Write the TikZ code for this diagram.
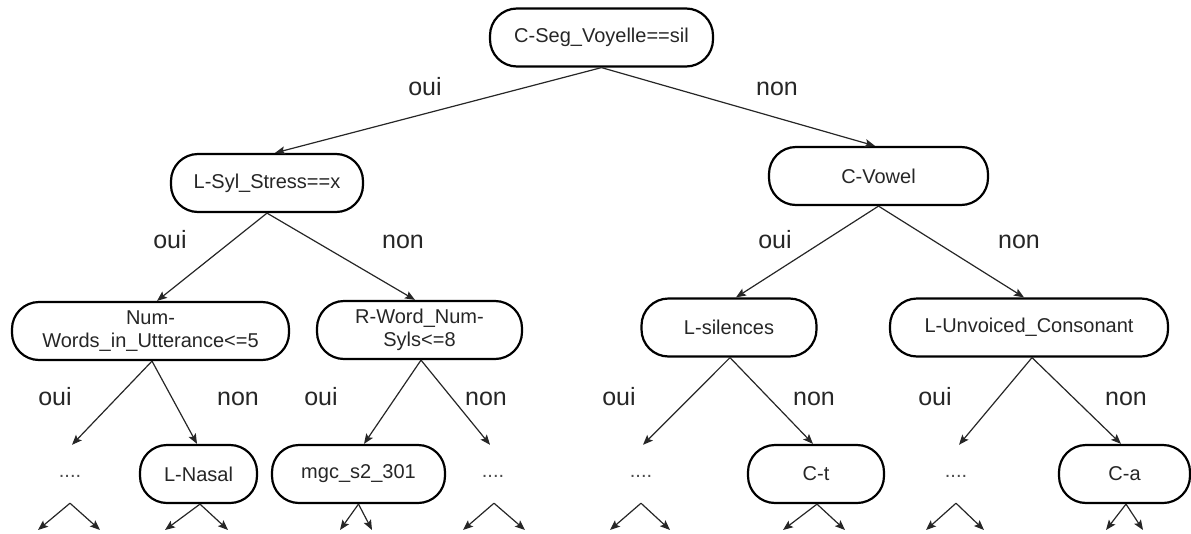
\documentclass[tikz,border=0pt]{standalone}
\usepackage{fontspec}
\setmainfont{Liberation Sans}
\usetikzlibrary{arrows.meta}
\begin{document}
\begin{tikzpicture}[x=1pt,y=-1pt,
  box/.style={draw=black, line width=2.2pt, rounded corners=27pt, minimum height=58pt,
    inner sep=0pt, font=\fontsize{20}{23}\selectfont, align=center, text=black!85},
  ph/.style={minimum height=58pt, minimum width=30pt, inner sep=0pt, font=\fontsize{20}{23}\selectfont, text=black!70},
  lab/.style={anchor=base, inner sep=0pt, font=\fontsize{25}{28}\selectfont, text=black!85},
  conn/.style={draw=black!85, line width=1.2pt, -{Stealth[length=10pt,width=8pt,inset=2pt]}}
]
\useasboundingbox (0,0) rectangle (1191,533);

% nodes
\node[box, minimum width=223pt] (root) at (601.5,37.5) {C-Seg\_Voyelle==sil};
\node[box, minimum width=192pt] (lsyl) at (267,183) {L-Syl\_Stress==x};
\node[box, minimum width=219pt] (cvow) at (878.5,176) {C-Vowel};
\node[box, minimum width=277pt] (numw) at (150.5,331) {Num-\\Words\_in\_Utterance<=5};
\node[box, minimum width=205pt] (rword) at (419.5,330) {R-Word\_Num-\\Syls<=8};
\node[box, minimum width=175pt] (lsil) at (729,327.5) {L-silences};
\node[box, minimum width=278pt] (lunv) at (1029,327.5) {L-Unvoiced\_Consonant};
\node[box, minimum width=117pt] (lnas) at (198.5,474) {L-Nasal};
\node[box, minimum width=173pt] (mgc) at (358.5,474) {mgc\_s2\_301};
\node[box, minimum width=136pt] (ct) at (816,474) {C-t};
\node[box, minimum width=131pt] (ca) at (1124.5,474) {C-a};
\node[ph] (ph1) at (70,474) {\raisebox{-6pt}{....}};
\node[ph] (ph2) at (493,474) {\raisebox{-6pt}{....}};
\node[ph] (ph3) at (641,474) {\raisebox{-6pt}{....}};
\node[ph] (ph4) at (956,474) {\raisebox{-6pt}{....}};

% labels
\node[lab] (l1o) at (425,95) {oui};
\node[lab] (l1n) at (777,95) {non};
\node[lab] (l2o1) at (170,248) {oui};
\node[lab] (l2n1) at (403,248) {non};
\node[lab] (l2o2) at (775,248) {oui};
\node[lab] (l2n2) at (1019,248) {non};
\node[lab] (l3o1) at (55,405) {oui};
\node[lab] (l3n1) at (238,405) {non};
\node[lab] (l3o2) at (321,405) {oui};
\node[lab] (l3n2) at (486,405) {non};
\node[lab] (l3o3) at (619,405) {oui};
\node[lab] (l3n3) at (814,405) {non};
\node[lab] (l3o4) at (935,405) {oui};
\node[lab] (l3n4) at (1126,405) {non};

% tree connectors
\draw[conn] (root.south) -- ([xshift=8pt]lsyl.north);
\draw[conn] (root.south) -- ([xshift=-3.5pt]cvow.north);
\draw[conn] (lsyl.south) -- ([xshift=6.5pt]numw.north);
\draw[conn] (lsyl.south) -- ([xshift=-4.5pt]rword.north);
\draw[conn] (cvow.south) -- ([xshift=7pt]lsil.north);
\draw[conn] (cvow.south) -- ([xshift=-5pt]lunv.north);
\draw[conn] ([xshift=1.5pt]numw.south) -- ([xshift=2pt]ph1.north);
\draw[conn] ([xshift=1.5pt]numw.south) -- ([xshift=-1.5pt]lnas.north);
\draw[conn] ([xshift=1.5pt]rword.south) -- ([xshift=5.5pt]mgc.north);
\draw[conn] ([xshift=1.5pt]rword.south) -- ([xshift=-3pt]ph2.north);
\draw[conn] ([xshift=1pt]lsil.south) -- ([xshift=2pt]ph3.north);
\draw[conn] ([xshift=1pt]lsil.south) -- ([xshift=-3pt]ct.north);
\draw[conn] ([xshift=3pt]lunv.south) -- ([xshift=3pt]ph4.north);
\draw[conn] ([xshift=3pt]lunv.south) -- ([xshift=-3.5pt]ca.north);

% free ends at the bottom
\coordinate (e1a) at (38,530);   \coordinate (e1b) at (100,530);
\coordinate (e2a) at (165,530);  \coordinate (e2b) at (228,530);
\coordinate (e3a) at (340,530);  \coordinate (e3b) at (372,530);
\coordinate (e4a) at (463,530);  \coordinate (e4b) at (525,530);
\coordinate (e5a) at (610,530);  \coordinate (e5b) at (670,530);
\coordinate (e6a) at (783,530);  \coordinate (e6b) at (845,530);
\coordinate (e7a) at (926,530);  \coordinate (e7b) at (984,530);
\coordinate (e8a) at (1106,530); \coordinate (e8b) at (1143,530);

\draw[conn] (ph1.south) -- (e1a); \draw[conn] (ph1.south) -- (e1b);
\draw[conn] ([xshift=1.5pt]lnas.south) -- (e2a); \draw[conn] ([xshift=1.5pt]lnas.south) -- (e2b);
\draw[conn] (mgc.south) -- (e3a); \draw[conn] (mgc.south) -- (e3b);
\draw[conn] ([xshift=1pt]ph2.south) -- (e4a); \draw[conn] ([xshift=1pt]ph2.south) -- (e4b);
\draw[conn] (ph3.south) -- (e5a); \draw[conn] (ph3.south) -- (e5b);
\draw[conn] ([xshift=1pt]ct.south) -- (e6a); \draw[conn] ([xshift=1pt]ct.south) -- (e6b);
\draw[conn] (ph4.south) -- (e7a); \draw[conn] (ph4.south) -- (e7b);
\draw[conn] ([xshift=1.5pt]ca.south) -- (e8a); \draw[conn] ([xshift=1.5pt]ca.south) -- (e8b);
\end{tikzpicture}
\end{document}
